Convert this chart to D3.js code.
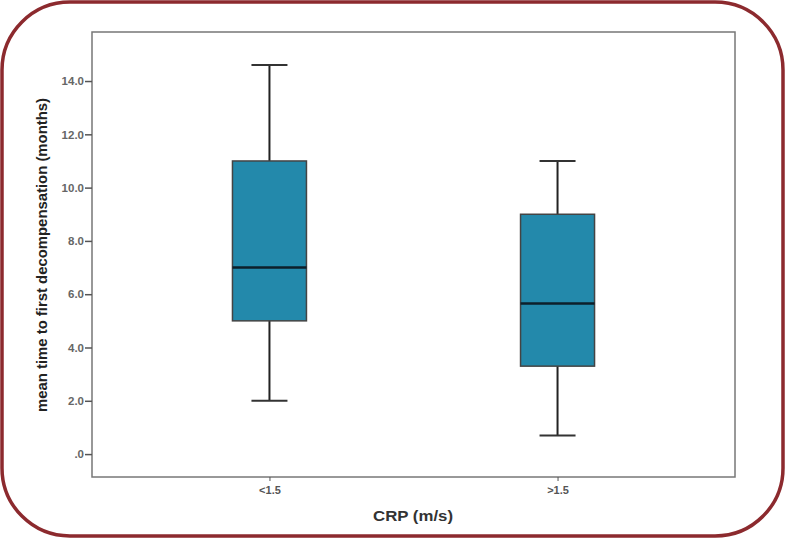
<!DOCTYPE html>
<html>
<head>
<meta charset="utf-8">
<script src="https://cdn.jsdelivr.net/npm/d3@7"></script>
<style>
  body { margin: 0; background: #fff; }
  text { font-family: "Liberation Sans", Arial, sans-serif; }
</style>
</head>
<body>
<script>
// data
var groups = ["<1.5", ">1.5"];
var whiskerLow  = [2.0, 0.7];
var quart1      = [5.0, 3.3];
var medians     = [7.0, 5.65];
var quart3      = [11.0, 9.0];
var whiskerHigh = [14.6, 11.0];
var yTicks = [0, 2, 4, 6, 8, 10, 12, 14];

var width = 785, height = 538;
var margin = {top: 32, right: 50, bottom: 61, left: 92};

var svg = d3.select("body").append("svg")
  .attr("width", width)
  .attr("height", height);

// rounded red border
svg.append("rect")
  .attr("x", 2).attr("y", 2)
  .attr("width", width - 4).attr("height", height - 4)
  .attr("rx", 68).attr("ry", 68)
  .style("fill", "none")
  .style("stroke", "#8c2a2e")
  .style("stroke-width", 3.5);

var x = d3.scalePoint().domain(groups)
  .range([margin.left, width - margin.right]).padding(0.616);
var y = d3.scaleLinear().domain([-0.86, 15.84])
  .range([height - margin.bottom, margin.top]);

// frame
svg.append("rect")
  .attr("x", margin.left).attr("y", margin.top)
  .attr("width", width - margin.left - margin.right)
  .attr("height", height - margin.top - margin.bottom)
  .style("fill", "none").style("stroke", "#777").style("stroke-width", 1.5);

var yAxis = svg.append("g")
  .attr("transform", `translate(${margin.left},0)`)
  .call(d3.axisLeft(y).tickValues(yTicks).tickSize(7).tickSizeOuter(0)
    .tickFormat(function(d){ return d === 0 ? ".0" : d3.format(".1f")(d); }));
yAxis.select(".domain").remove();
yAxis.selectAll("line").style("stroke", "#555").style("stroke-width", 1.5);
yAxis.selectAll("text").style("font-size", "11.5px").style("font-weight", "bold")
  .style("fill", "#666").attr("x", -8);

var xAxis = svg.append("g")
  .attr("transform", `translate(0,${height - margin.bottom})`)
  .call(d3.axisBottom(x).tickSize(4).tickSizeOuter(0));
xAxis.select(".domain").remove();
xAxis.selectAll("line").style("stroke", "#555");
xAxis.selectAll("text").style("font-size", "11px").style("font-weight", "bold")
  .style("fill", "#555").attr("y", 9);

// axis titles
svg.append("text")
  .attr("transform", `translate(47,255) rotate(-90)`)
  .attr("text-anchor", "middle")
  .attr("textLength", 314).attr("lengthAdjust", "spacingAndGlyphs")
  .style("font-size", "14px").style("font-weight", "bold").style("fill", "#222")
  .text("mean time to first decompensation (months)");

svg.append("text")
  .attr("x", 413).attr("y", 521)
  .attr("text-anchor", "middle")
  .attr("textLength", 80).attr("lengthAdjust", "spacingAndGlyphs")
  .style("font-size", "15px").style("font-weight", "bold").style("fill", "#333")
  .text("CRP (m/s)");

// boxes
var boxW = 74, capW = 36;
var g = svg.selectAll(".box").data(groups).enter().append("g").attr("class", "box");

g.append("line")
  .attr("x1", function(d){ return x(d); }).attr("x2", function(d){ return x(d); })
  .attr("y1", function(d, i){ return y(whiskerHigh[i]); })
  .attr("y2", function(d, i){ return y(whiskerLow[i]); })
  .style("stroke", "#222").style("stroke-width", 2);

[whiskerHigh, whiskerLow].forEach(function(arr){
  g.append("line")
    .attr("x1", function(d){ return x(d) - capW / 2; })
    .attr("x2", function(d){ return x(d) + capW / 2; })
    .attr("y1", function(d, i){ return y(arr[i]); })
    .attr("y2", function(d, i){ return y(arr[i]); })
    .style("stroke", "#333").style("stroke-width", 2);
});

g.append("rect")
  .attr("x", function(d){ return x(d) - boxW / 2; })
  .attr("width", boxW)
  .attr("y", function(d, i){ return y(quart3[i]); })
  .attr("height", function(d, i){ return y(quart1[i]) - y(quart3[i]); })
  .style("fill", "#2389ab").style("stroke", "#444").style("stroke-width", 1.5);

g.append("line")
  .attr("x1", function(d){ return x(d) - boxW / 2; })
  .attr("x2", function(d){ return x(d) + boxW / 2; })
  .attr("y1", function(d, i){ return y(medians[i]); })
  .attr("y2", function(d, i){ return y(medians[i]); })
  .style("stroke", "#0d1f2a").style("stroke-width", 2.5);
</script>
</body>
</html>
